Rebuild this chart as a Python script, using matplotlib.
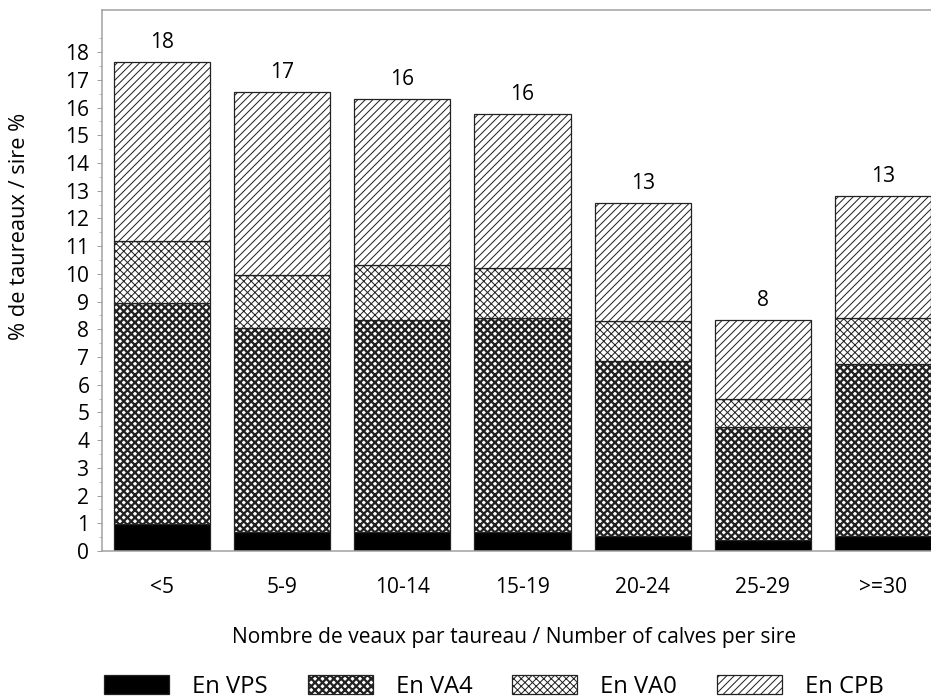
#!/usr/bin/env python3
"""Stacked bars: % of sires by number of calves, split by evaluation status."""
import matplotlib
matplotlib.use("Agg")
import matplotlib.pyplot as plt
from matplotlib.patches import Patch
import numpy as np

categories = ["<5", "5-9", "10-14", "15-19", "20-24", "25-29", ">=30"]
vps = [0.97, 0.67, 0.70, 0.70, 0.55, 0.41, 0.55]
va4 = [7.97, 7.39, 7.64, 7.71, 6.31, 4.07, 6.20]
va0 = [2.26, 1.90, 1.98, 1.79, 1.44, 1.01, 1.65]
cpb = [6.46, 6.60, 5.98, 5.58, 4.25, 2.84, 4.42]
totals = [18, 17, 16, 16, 13, 8, 13]

series_labels = ["En VPS", "En VA4", "En VA0", "En CPB"]

DPI = 90
FS = 16.8
plt.rcParams['font.family'] = ['Open Sans', 'DejaVu Sans']
EDGE = '#222222'
GRAY = '#a0a0a0'

# (face, hatch, hatch linewidth)
styles = [('black', None, 1.0),
          ('white', 'xxxx', 1.8),
          ('white', 'xxxx', 0.8),
          ('white', '////', 0.8)]


def set_hlw(p, hlw):
    if hasattr(p, 'set_hatch_linewidth'):
        p.set_hatch_linewidth(hlw)


def draw_stack(ax, x, layers):
    bottom = np.zeros(len(x))
    handles = []
    for vals, (face, hatch, hlw), lab in zip(layers, styles, series_labels):
        with plt.rc_context({'hatch.linewidth': hlw, 'hatch.color': EDGE}):
            bars = ax.bar(x, vals, width=0.8, bottom=bottom, color=face,
                          edgecolor=EDGE, linewidth=1.0, hatch=hatch)
            h = Patch(facecolor=face, edgecolor=EDGE, hatch=hatch, linewidth=1.0, label=lab)
        for b in bars:
            set_hlw(b, hlw)
        set_hlw(h, hlw)
        handles.append(h)
        bottom = bottom + np.asarray(vals)
    return bottom, handles


def main():
    fig = plt.figure(figsize=(931 / DPI, 700 / DPI), dpi=DPI)
    ax = fig.add_axes([102 / 931, 149 / 700, (943 - 102) / 931, (551 - 10) / 700])

    x = np.arange(len(categories))
    tops, handles = draw_stack(ax, x, [vps, va4, va0, cpb])

    for xi, top, t in zip(x, tops, totals):
        ax.annotate(str(t), (xi, top), xytext=(0, 7), textcoords='offset points',
                    ha='center', va='bottom', fontsize=FS)

    ax.set_xlim(-0.5, 6.5)
    ax.set_ylim(0, 19.52)
    ax.set_yticks(range(0, 19))
    ax.set_yticks(np.arange(0.5, 18.6, 1.0), minor=True)
    ax.tick_params(axis='y', which='major', length=4, color=GRAY, labelsize=FS, pad=6)
    ax.tick_params(axis='y', which='minor', length=2.2, color=GRAY)
    ax.set_xticks(x)
    ax.set_xticklabels(categories)
    ax.tick_params(axis='x', length=0, labelsize=FS, pad=21)

    for side in ['left', 'top', 'bottom']:
        ax.spines[side].set_color(GRAY)
        ax.spines[side].set_linewidth(1.2)
    ax.spines['right'].set_visible(False)

    fig.text(20 / 931, 1 - 226 / 700, "% de taureaux / sire %", rotation=90,
             ha='center', va='center', fontsize=17.5)
    fig.text(514 / 931, 1 - 638 / 700, "Nombre de veaux par taureau / Number of calves per sire",
             ha='center', va='center', fontsize=FS)

    leg = fig.legend(handles=handles, loc='center', ncol=4, frameon=False, fontsize=19,
                     bbox_to_anchor=(494 / 931, 1 - 687 / 700),
                     handlelength=2.74, handleheight=0.84, handletextpad=0.97,
                     columnspacing=1.68)
    # legend copies the handles, so put the hatch widths back
    for p, (face, hatch, hlw) in zip(leg.get_patches(), styles):
        set_hlw(p, hlw)

    fig.savefig("out.png", dpi=DPI)
    plt.close()


if __name__ == "__main__":
    main()
